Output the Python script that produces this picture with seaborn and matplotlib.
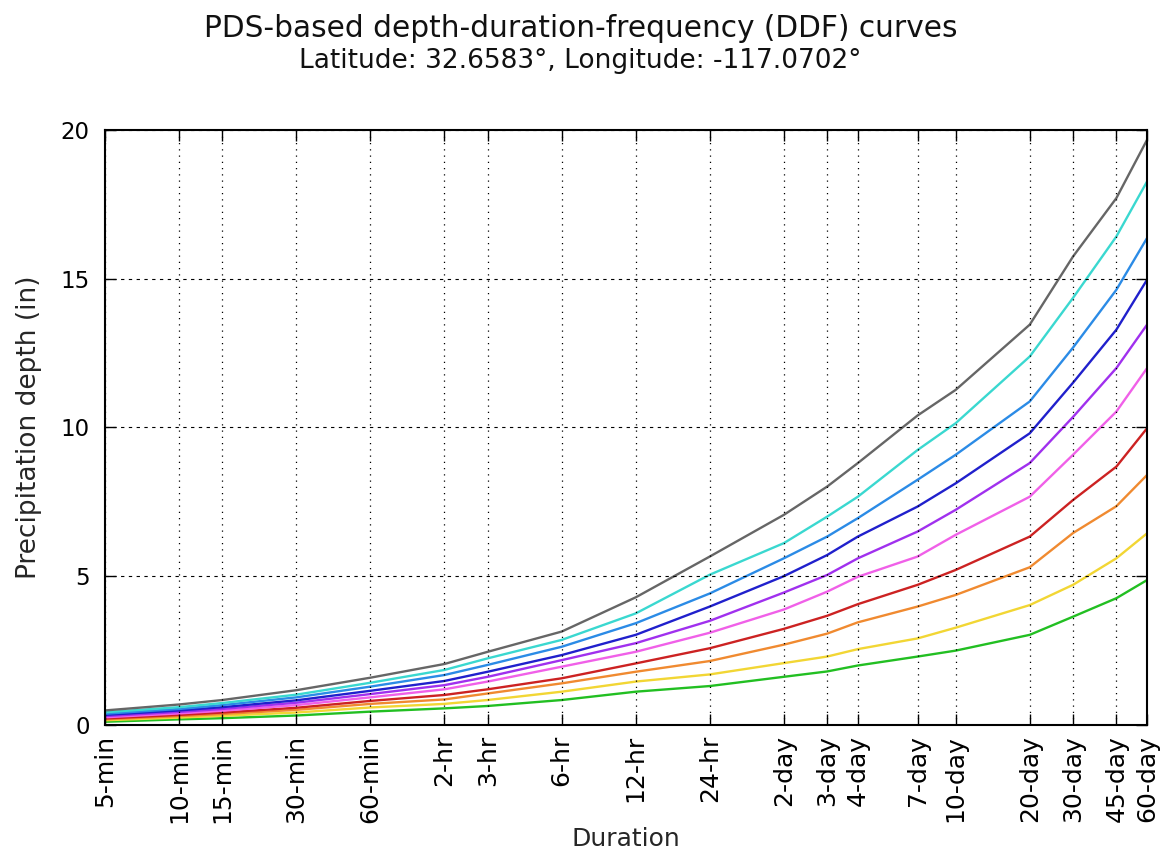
import matplotlib
matplotlib.use("Agg")
import matplotlib.pyplot as plt
import seaborn as sns
import pandas as pd

# Durations (minutes) and their labels
durations_min = [5, 10, 15, 30, 60, 120, 180, 360, 720, 1440,
                 2880, 4320, 5760, 10080, 14400, 28800, 43200, 64800, 86400]
duration_labels = ["5-min", "10-min", "15-min", "30-min", "60-min", "2-hr", "3-hr",
                   "6-hr", "12-hr", "24-hr", "2-day", "3-day", "4-day", "7-day",
                   "10-day", "20-day", "30-day", "45-day", "60-day"]

# Average recurrence intervals (years)
return_periods = [1, 2, 5, 10, 25, 50, 100, 200, 500, 1000]

# Precipitation depth (in) for each recurrence interval
depth_1 = [0.11, 0.19, 0.23, 0.32, 0.45, 0.56, 0.64, 0.84, 1.12, 1.31,
           1.62, 1.80, 2.00, 2.30, 2.50, 3.03, 3.64, 4.26, 4.87]
depth_2 = [0.16, 0.25, 0.31, 0.42, 0.59, 0.71, 0.84, 1.12, 1.46, 1.70,
           2.08, 2.30, 2.55, 2.91, 3.27, 4.03, 4.71, 5.60, 6.44]
depth_5 = [0.19, 0.30, 0.37, 0.51, 0.71, 0.86, 1.06, 1.40, 1.79, 2.15,
           2.70, 3.07, 3.45, 3.98, 4.37, 5.30, 6.45, 7.35, 8.40]
depth_10 = [0.22, 0.34, 0.42, 0.58, 0.81, 1.01, 1.20, 1.57, 2.07, 2.58,
            3.23, 3.67, 4.06, 4.71, 5.21, 6.33, 7.56, 8.68, 9.97]
depth_25 = [0.26, 0.39, 0.48, 0.67, 0.93, 1.20, 1.46, 1.96, 2.46, 3.10,
            3.88, 4.48, 4.98, 5.66, 6.39, 7.67, 9.08, 10.53, 11.99]
depth_50 = [0.30, 0.44, 0.54, 0.75, 1.04, 1.34, 1.62, 2.18, 2.75, 3.50,
            4.45, 5.04, 5.60, 6.50, 7.23, 8.80, 10.35, 11.99, 13.45]
depth_100 = [0.34, 0.49, 0.60, 0.83, 1.15, 1.48, 1.79, 2.35, 3.03, 3.98,
             5.00, 5.71, 6.33, 7.34, 8.12, 9.80, 11.50, 13.28, 14.96]
depth_200 = [0.38, 0.54, 0.67, 0.93, 1.29, 1.68, 2.02, 2.63, 3.42, 4.42,
             5.60, 6.33, 6.95, 8.24, 9.08, 10.87, 12.68, 14.62, 16.36]
depth_500 = [0.43, 0.60, 0.74, 1.02, 1.42, 1.85, 2.24, 2.86, 3.75, 5.05,
             6.11, 7.00, 7.67, 9.24, 10.14, 12.38, 14.35, 16.41, 18.26]
depth_1000 = [0.49, 0.69, 0.84, 1.17, 1.59, 2.05, 2.46, 3.14, 4.29, 5.66,
              7.06, 8.01, 8.80, 10.40, 11.26, 13.45, 15.74, 17.70, 19.66]

series = [depth_1, depth_2, depth_5, depth_10, depth_25, depth_50,
          depth_100, depth_200, depth_500, depth_1000]

line_colors = ["#22bf22", "#f2d634", "#f08a30", "#cc2222", "#f060e8",
               "#a030ee", "#2020cc", "#2b8be6", "#3ad8d0", "#666666"]

rows = []
for rp, values in zip(return_periods, series):
    for d, v in zip(durations_min, values):
        rows.append({"duration": d, "depth": v, "ari": f"{rp}"})
df = pd.DataFrame(rows)

sns.set_style("white")
plt.rcParams["font.family"] = ["DejaVu Sans"]

fig = plt.figure(figsize=(11.61, 8.56), dpi=100)
ax = fig.add_axes([0.0904, 0.1530, 0.8976, 0.6955])

sns.lineplot(data=df, x="duration", y="depth", hue="ari",
             hue_order=[str(r) for r in return_periods],
             palette=line_colors, linewidth=1.7, legend=False, ax=ax,
             estimator=None, sort=True)

ax.set_xscale("log")
ax.set_xlim(durations_min[0], durations_min[-1])
ax.set_ylim(0, 20)
ax.set_xticks(durations_min)
ax.set_xticklabels(duration_labels, rotation=90, fontsize=18)
ax.minorticks_off()
ax.set_yticks([0, 5, 10, 15, 20])
ax.set_yticklabels(["0", "5", "10", "15", "20"], fontsize=16.5)

# Classic grid: dotted verticals, dashed horizontals
ax.xaxis.grid(True, color="black", linestyle=(0, (1, 4)), linewidth=0.9)
ax.yaxis.grid(True, color="black", linestyle=(0, (3, 4)), linewidth=0.8)
ax.set_axisbelow(False)

ax.tick_params(axis="both", which="major", direction="in", length=8, width=1,
               top=True, right=True, bottom=True, left=True, colors="black")
ax.tick_params(axis="x", pad=7)
ax.tick_params(axis="y", pad=11)
for sp in ax.spines.values():
    sp.set_visible(True)
    sp.set_color("black")
    sp.set_linewidth(1.5)

ax.set_xlabel("Duration", fontsize=18, labelpad=3)
ax.set_ylabel("Precipitation depth (in)", fontsize=19, labelpad=13)

fig.text(0.5, 0.967, "PDS-based depth-duration-frequency (DDF) curves",
         ha="center", va="center", fontsize=21.3, color="#111111")
fig.text(0.5, 0.929, "Latitude: 32.6583°, Longitude: -117.0702°",
         ha="center", va="center", fontsize=19, color="#111111")

fig.savefig("out.png", dpi=100)
